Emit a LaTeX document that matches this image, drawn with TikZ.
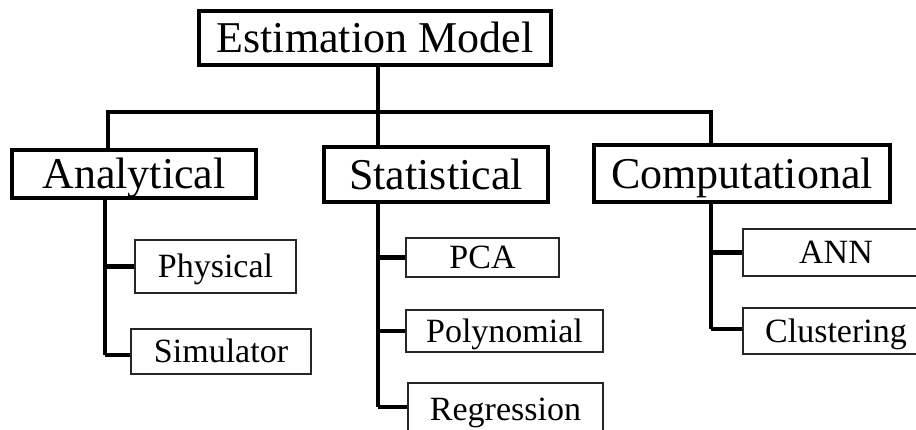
\documentclass[tikz,border=0pt]{standalone}
\usepackage{fontspec}
\setmainfont{Liberation Serif}
\begin{document}
\begin{tikzpicture}[x=1pt,y=-1pt,
  mainbox/.style={draw=black, line width=4.5pt, rectangle, inner sep=0pt,
    font=\fontsize{44}{48}\selectfont, text height=29pt, text depth=0pt},
  subbox/.style={draw=black!85, line width=1.8pt, rectangle, inner sep=0pt,
    font=\fontsize{34}{38}\selectfont, text height=22.5pt, text depth=0pt},
  bus/.style={line width=4.5pt, line join=miter},
  spine/.style={line width=3.5pt, line join=miter},
  tick/.style={line width=4.5pt}]
\useasboundingbox (0,0) rectangle (916,429);
\clip (0,0) rectangle (916,429);
\fill[white] (0,0) rectangle (916,429);

% top level
\node[mainbox, minimum width=352pt, minimum height=54pt] (em) at (375,38) {Estimation Model};

% second level
\node[mainbox, minimum width=244pt, minimum height=48pt] (ana) at (134,174) {Analytical};
\node[mainbox, minimum width=224pt, minimum height=55pt] (stat) at (436,174.5) {Statistical};
\node[mainbox, minimum width=296pt, minimum height=57pt] (comp) at (742,173.5) {Computational};

% leaves
\node[subbox, minimum width=161pt, minimum height=53pt] (phys) at (215.5,266.5) {Physical};
\node[subbox, minimum width=180pt, minimum height=45pt] (sim) at (221,351.5) {Simulator};
\node[subbox, minimum width=153pt, minimum height=39pt] (pca) at (482.5,257.5) {PCA};
\node[subbox, minimum width=197pt, minimum height=42pt] (poly) at (504.5,331) {Polynomial};
\node[subbox, minimum width=195pt, minimum height=52pt] (reg) at (505.5,409) {Regression};
\node[subbox, minimum width=186pt, minimum height=47pt] (ann) at (836,252.5) {ANN};
\node[subbox, minimum width=186pt, minimum height=46pt] (clu) at (836,331) {Clustering};

% bus joining the top box to the three families
\coordinate (hub) at (378,112);
\coordinate (busL) at (108,112);
\coordinate (busR) at (711,112);
\draw[bus] (em.south -| hub) -- (hub |- stat.north);
\draw[bus] (busL |- ana.north) -- (busL) -- (busR) -- (busR |- comp.north);

% analytical branch
\coordinate (aS) at (105,355);
\draw[spine] (aS |- ana.south) -- (aS);
\draw[tick] (aS |- phys.west) -- (phys.west);
\draw[tick] (aS) -- (aS -| sim.west);

% statistical branch
\coordinate (sS) at (378,407);
\draw[spine] (sS |- stat.south) -- (sS);
\draw[tick] (sS |- pca.west) -- (pca.west);
\draw[tick] (sS |- poly.west) -- (poly.west);
\draw[tick] (sS) -- (sS -| reg.west);

% computational branch
\coordinate (cS) at (711,329);
\draw[spine] (cS |- comp.south) -- (cS);
\draw[tick] (cS |- ann.west) -- (ann.west);
\draw[tick] (cS) -- (cS -| clu.west);
\end{tikzpicture}
\end{document}
